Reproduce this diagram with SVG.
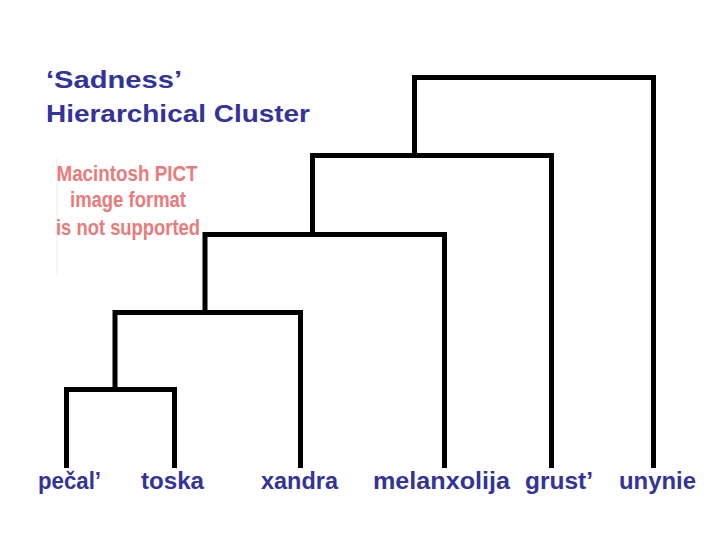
<svg xmlns="http://www.w3.org/2000/svg" width="720" height="540" viewBox="0 0 720 540">
  <style>
    .title { font-family: "Liberation Sans", Arial, sans-serif; font-weight: bold; font-size: 24px; fill: #333399; }
    .leaf { font-family: "Liberation Sans", Arial, sans-serif; font-weight: bold; font-size: 23px; fill: #333399; }
    .pict { font-family: "Liberation Sans Narrow", "Liberation Sans", Arial, sans-serif; font-weight: bold; font-size: 22px; fill: #e97b7b; text-anchor: middle; }
    .link { fill: none; stroke: #000000; stroke-width: 5; stroke-linejoin: miter; stroke-linecap: butt; }
  </style>
  <rect width="720" height="540" fill="#ffffff"/>

  <g id="title">
    <text class="title" x="46" y="88" textLength="136" lengthAdjust="spacingAndGlyphs">‘Sadness’</text>
    <text class="title" x="46" y="122" textLength="264" lengthAdjust="spacingAndGlyphs">Hierarchical Cluster</text>
  </g>

  <g id="pict-placeholder">
    <line x1="57" y1="158" x2="57" y2="275" stroke="#ededed" stroke-width="1"/>
    <text class="pict" x="127" y="181" textLength="141" lengthAdjust="spacingAndGlyphs">Macintosh PICT</text>
    <text class="pict" x="128" y="207" textLength="116" lengthAdjust="spacingAndGlyphs">image format</text>
    <text class="pict" x="128" y="235" textLength="144" lengthAdjust="spacingAndGlyphs">is not supported</text>
  </g>

  <g id="connectors">
    <path class="link" d="M66.5 468 V389.5 H174.5 V468"/>
    <path class="link" d="M115 389.5 V312.5 H300.5 V468"/>
    <path class="link" d="M205 312.5 V234.5 H444.5 V468"/>
    <path class="link" d="M312.5 234.5 V155.5 H551.5 V468"/>
    <path class="link" d="M414.5 155.5 V77.5 H653.5 V468"/>
  </g>

  <g id="leaf-pecal"><text class="leaf" x="38" y="489" textLength="63" lengthAdjust="spacingAndGlyphs">pečal’</text></g>
  <g id="leaf-toska"><text class="leaf" x="141" y="489" textLength="63" lengthAdjust="spacingAndGlyphs">toska</text></g>
  <g id="leaf-xandra"><text class="leaf" x="261" y="489" textLength="77" lengthAdjust="spacingAndGlyphs">xandra</text></g>
  <g id="leaf-melanxolija"><text class="leaf" x="373" y="489" textLength="137" lengthAdjust="spacingAndGlyphs">melanxolija</text></g>
  <g id="leaf-grust"><text class="leaf" x="525" y="489" textLength="68" lengthAdjust="spacingAndGlyphs">grust’</text></g>
  <g id="leaf-unynie"><text class="leaf" x="619" y="489" textLength="77" lengthAdjust="spacingAndGlyphs">unynie</text></g>
</svg>
